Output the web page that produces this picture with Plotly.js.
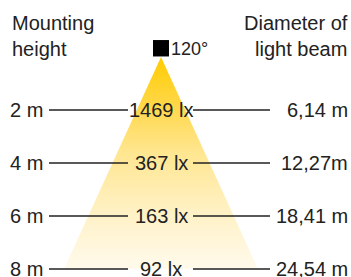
<!DOCTYPE html>
<html>
<head>
<meta charset="utf-8">
<script src="https://cdn.plot.ly/plotly-3.0.1.min.js"></script>
<style>html,body{margin:0;padding:0;background:#fff;}#chart{width:351px;height:277px;}</style>
</head>
<body>
<div id="chart"></div>
<script>
// Data
const heights = [2, 4, 6, 8];                 // mounting height (m)
const heightLabels = ['2 m', '4 m', '6 m', '8 m'];
const lux = [1469, 367, 163, 92];             // illuminance (lx)
const diameters = ['6,14 m', '12,27m', '18,41 m', '24,54 m']; // beam diameter labels
const beamAngle = '120°';
const headerLeft = 'Mounting<br>height';
const headerRight = 'Diameter of<br>light beam';

// Schematic cone geometry (drawing units along x, metres along y)
const coneTop = 0, coneBottom = 8, coneHalf = 97;

const FONT = 'Liberation Sans, Arial, sans-serif';
const TXT = '#222222';
const FS = 20;

const traces = [{
  type: 'scatter', mode: 'lines',
  x: [0, -coneHalf, coneHalf, 0],
  y: [coneTop, coneBottom, coneBottom, coneTop],
  fill: 'toself',
  fillcolor: '#FFE080',
  fillgradient: {
    type: 'vertical',
    start: coneTop, stop: coneBottom,
    colorscale: [[0, '#FFCC00'], [0.2, '#FFD640'], [0.45, '#FFE690'], [0.75, '#FFF2C8'], [1, '#FFFAEC']]
  },
  line: {width: 0},
  hoverinfo: 'skip', showlegend: false
}];

const shapes = [];
const annotations = [];
heights.forEach((h, i) => {
  shapes.push({type: 'line', xref: 'x', yref: 'y', x0: -112, x1: -33, y0: h, y1: h,
    line: {color: TXT, width: 1.3}});
  shapes.push({type: 'line', xref: 'x', yref: 'y', x0: 32, x1: 109, y0: h, y1: h,
    line: {color: TXT, width: 1.3}});
  annotations.push({xref: 'x', yref: 'y', x: -152, y: h, xanchor: 'left', yanchor: 'middle',
    text: heightLabels[i], showarrow: false, borderpad: 0, font: {family: FONT, size: FS, color: TXT}});
  annotations.push({xref: 'x', yref: 'y', x: 0, y: h, xanchor: 'center', yanchor: 'middle',
    text: lux[i] + ' lx', showarrow: false, borderpad: 0, font: {family: FONT, size: FS, color: TXT}});
  annotations.push({xref: 'x', yref: 'y', x: 188, y: h, xanchor: 'right', yanchor: 'middle',
    text: diameters[i], showarrow: false, borderpad: 0, font: {family: FONT, size: FS, color: TXT}});
});
// lamp
shapes.push({type: 'rect', xref: 'x', yref: 'y', x0: -8, x1: 8, y0: -0.64, y1: -0.02,
  fillcolor: '#000', line: {width: 0}});
annotations.push({xref: 'x', yref: 'y', x: 8, y: -0.32, xanchor: 'left', yanchor: 'middle',
  text: beamAngle, showarrow: false, font: {family: FONT, size: 18, color: TXT}});
annotations.push({xref: 'paper', yref: 'paper', x: 10/351, y: 1 - 10/277, xanchor: 'left', yanchor: 'top',
  align: 'left', text: headerLeft, showarrow: false, font: {family: FONT, size: FS, color: TXT}});
annotations.push({xref: 'paper', yref: 'paper', x: 350/351, y: 1 - 10/277, xanchor: 'right', yanchor: 'top',
  align: 'right', text: headerRight, showarrow: false, font: {family: FONT, size: FS, color: TXT}});

const pxPerM = 26.5, apexPx = 57;
const layout = {
  width: 351, height: 277,
  margin: {l: 0, r: 0, t: 0, b: 0},
  paper_bgcolor: '#fff', plot_bgcolor: '#fff',
  xaxis: {range: [-161, 190], visible: false, fixedrange: true},
  yaxis: {range: [(277 - apexPx) / pxPerM, -apexPx / pxPerM], visible: false, fixedrange: true},
  shapes: shapes, annotations: annotations,
  showlegend: false
};
Plotly.newPlot('chart', traces, layout, {displayModeBar: false, staticPlot: true});
</script>
</body>
</html>
